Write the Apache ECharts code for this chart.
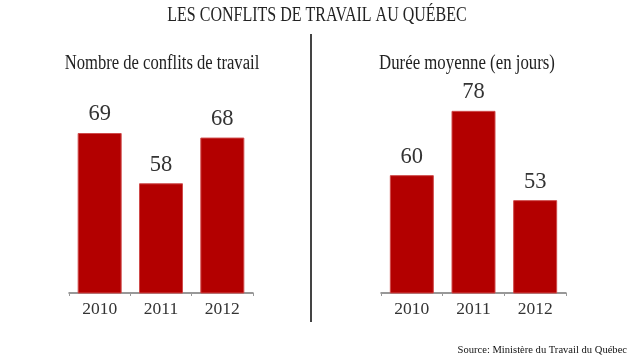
<!DOCTYPE html>
<html>
<head>
<meta charset="utf-8">
<script src="https://cdn.jsdelivr.net/npm/echarts@6/dist/echarts.min.js"></script>
<style>
html,body{margin:0;padding:0;background:#fff;}
#c{width:635px;height:357px;}
</style>
</head>
<body>
<div id="c"></div>
<script>
const categories = ['2010', '2011', '2012'];
const conflits = [69, 58, 68];
const duree = [60, 78, 53];
const titleText = 'LES CONFLITS DE TRAVAIL AU QUÉBEC';
const leftSubtitle = 'Nombre de conflits de travail';
const rightSubtitle = 'Durée moyenne (en jours)';
const sourceText = 'Source: Ministère du Travail du Québec';

const serif = 'Liberation Serif';
const chart = echarts.init(document.getElementById('c'), null, {renderer: 'canvas'});

function xAxisCfg(idx) {
  return {
    type: 'category', gridIndex: idx, data: categories,
    axisLine: {lineStyle: {color: '#777', width: 1.5}},
    axisTick: {show: true, length: 3, lineStyle: {color: '#999'}},
    axisLabel: {fontFamily: serif, fontSize: 17.5, color: '#333', margin: 7}
  };
}
function barSeries(idx, data) {
  return {
    type: 'bar', xAxisIndex: idx, yAxisIndex: idx, data: data,
    barWidth: 44,
    itemStyle: {color: '#b30000', borderColor: '#cf4a4a', borderWidth: 1},
    label: {show: true, position: 'top', distance: 7, fontFamily: serif, fontSize: 22.5, color: '#333'}
  };
}

chart.setOption({
  animation: false,
  grid: [
    {left: 69, width: 184, top: 101, bottom: 64},
    {left: 381, width: 185, top: 93, bottom: 64}
  ],
  xAxis: [xAxisCfg(0), xAxisCfg(1)],
  yAxis: [
    {type: 'value', gridIndex: 0, min: 34, max: 76, show: false, splitLine: {show: false}},
    {type: 'value', gridIndex: 1, min: 27, max: 83, show: false, splitLine: {show: false}}
  ],
  series: [barSeries(0, conflits), barSeries(1, duree)],
  graphic: [
    {type: 'text', x: 317, y: 16, scaleX: 0.8,
     style: {text: titleText, font: '20px "Liberation Serif"', fill: '#222', textAlign: 'center', textVerticalAlign: 'middle'}},
    {type: 'text', x: 162, y: 64, scaleX: 0.83,
     style: {text: leftSubtitle, font: '20px "Liberation Serif"', fill: '#222', textAlign: 'center', textVerticalAlign: 'middle'}},
    {type: 'text', x: 467, y: 64, scaleX: 0.84,
     style: {text: rightSubtitle, font: '20px "Liberation Serif"', fill: '#222', textAlign: 'center', textVerticalAlign: 'middle'}},
    {type: 'line', shape: {x1: 311, y1: 34, x2: 311, y2: 322},
     style: {stroke: '#444', lineWidth: 2}},
    {type: 'text', x: 627, y: 350, scaleX: 0.96,
     style: {text: sourceText, font: '11px "Liberation Serif"', fill: '#111', textAlign: 'right', textVerticalAlign: 'middle'}}
  ]
});
</script>
</body>
</html>
